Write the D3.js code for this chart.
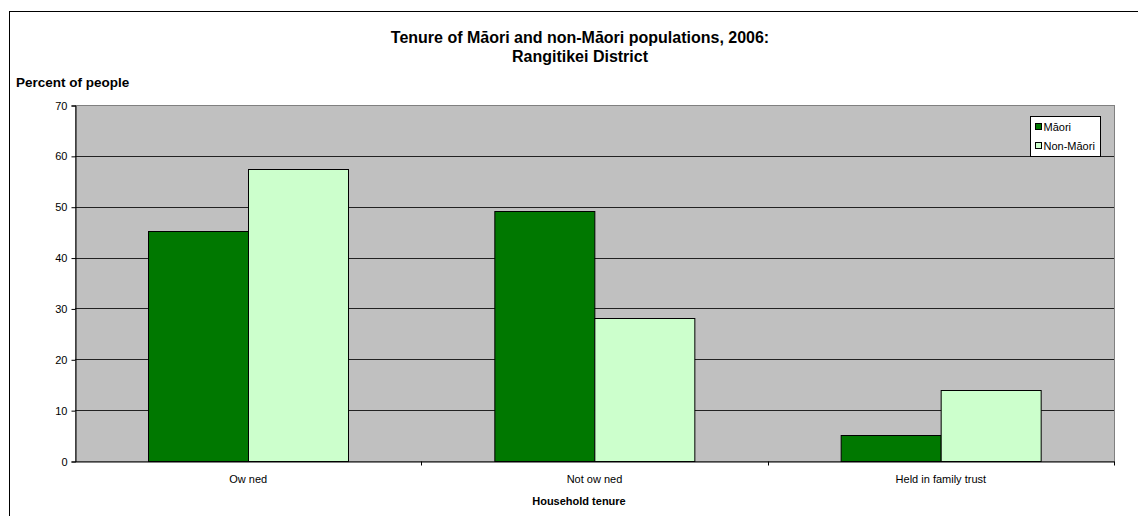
<!DOCTYPE html>
<html>
<head>
<meta charset="utf-8">
<script src="https://cdn.jsdelivr.net/npm/d3@7"></script>
<style>
  html, body { margin: 0; padding: 0; background: #fff; }
  svg { display: block; font-family: "Liberation Sans", Arial, sans-serif; }
</style>
</head>
<body>
<svg id="chart" width="1138" height="516"></svg>
<script>
// Household tenure categories and percentages by ethnic group
const categories = ["Ow ned", "Not ow ned", "Held in family trust"];
const seriesNames = ["Māori", "Non-Māori"];
const maoriValues = [45.3, 49.2, 5.1];
const nonMaoriValues = [57.5, 28.1, 13.9];
const yTicks = [0, 10, 20, 30, 40, 50, 60, 70];
const seriesColors = ["#007800", "#ccffcc"];

const svg = d3.select("#chart");
const plot = { left: 75, right: 1114, top: 105, bottom: 461 };
const font = "Liberation Sans, Arial, sans-serif";

// outer chart frame
svg.append("rect")
  .attr("x", 9.5).attr("y", 11.5)
  .attr("width", 1140).attr("height", 520)
  .attr("fill", "#fff").attr("stroke", "#000").attr("stroke-width", 1);

const x0 = d3.scaleBand().domain(categories).range([plot.left, plot.right]);
const x1 = d3.scaleBand().domain(seriesNames).range([0, x0.bandwidth()])
  .paddingInner(0).paddingOuter(0.73);
const y = d3.scaleLinear().domain([0, 70]).range([plot.bottom, plot.top]);

// plot background
svg.append("rect")
  .attr("x", plot.left + 0.5).attr("y", plot.top + 0.5)
  .attr("width", plot.right - plot.left).attr("height", plot.bottom - plot.top)
  .attr("fill", "#c0c0c0").attr("stroke", "#808080").attr("stroke-width", 1);

// horizontal gridlines
svg.append("g")
  .selectAll("line")
  .data(yTicks.filter(t => t > 0 && t < 70))
  .join("line")
  .attr("x1", plot.left).attr("x2", plot.right)
  .attr("y1", d => Math.round(y(d)) + 0.5).attr("y2", d => Math.round(y(d)) + 0.5)
  .attr("stroke", "#222").attr("stroke-width", 1);

// bars
const rows = categories.map((c, i) => ({ cat: c, vals: [maoriValues[i], nonMaoriValues[i]] }));
const groups = svg.append("g").selectAll("g")
  .data(rows)
  .join("g")
  .attr("transform", d => `translate(${x0(d.cat)},0)`);
groups.selectAll("rect")
  .data(d => d.vals.map((v, j) => ({ name: seriesNames[j], v, j })))
  .join("rect")
  .attr("x", d => Math.round(x1(d.name)) + 0.5)
  .attr("y", d => Math.round(y(d.v)) + 0.5)
  .attr("width", Math.round(x1.bandwidth()))
  .attr("height", d => Math.round(y(0)) - Math.round(y(d.v)))
  .attr("fill", d => seriesColors[d.j])
  .attr("stroke", "#000").attr("stroke-width", 1);

// y axis
const yAxis = d3.axisLeft(y).tickValues(yTicks).tickSize(4).tickPadding(4);
const gy = svg.append("g").attr("transform", `translate(${plot.left + 0.5},0.5)`).call(yAxis);
gy.select(".domain").attr("stroke", "#000");
gy.selectAll(".tick line").attr("stroke", "#000");
gy.selectAll(".tick text").attr("font-size", 11).attr("fill", "#000").attr("font-family", font);

// x axis
const xAxis = d3.axisBottom(x0).tickSize(0).tickPadding(14);
const gx = svg.append("g").attr("transform", `translate(0,${plot.bottom + 0.5})`).call(xAxis);
gx.select(".domain").attr("stroke", "#000");
gx.selectAll(".tick text").attr("font-size", 11).attr("fill", "#000").attr("font-family", font);
// tick marks on category boundaries
gx.selectAll(".sep")
  .data(categories)
  .join("line")
  .attr("class", "sep")
  .attr("x1", d => Math.round(x0(d) + x0.bandwidth()) + 0.5)
  .attr("x2", d => Math.round(x0(d) + x0.bandwidth()) + 0.5)
  .attr("y1", 0).attr("y2", 4)
  .attr("stroke", "#000");

// titles
const title = svg.append("text")
  .attr("text-anchor", "middle")
  .attr("font-size", 16).attr("font-weight", "bold").attr("fill", "#000");
title.append("tspan").attr("x", 580).attr("y", 43).text("Tenure of Māori and non-Māori populations, 2006:");
title.append("tspan").attr("x", 580).attr("y", 62).text("Rangitikei District");

svg.append("text")
  .attr("x", 16).attr("y", 87)
  .attr("font-size", 13.5).attr("font-weight", "bold").attr("fill", "#000")
  .text("Percent of people");

svg.append("text")
  .attr("x", 579).attr("y", 505).attr("text-anchor", "middle")
  .attr("font-size", 11).attr("font-weight", "bold").attr("fill", "#000")
  .text("Household tenure");

// legend
const legend = svg.append("g").attr("transform", "translate(1030.5,116.5)");
legend.append("rect").attr("width", 70).attr("height", 40)
  .attr("fill", "#fff").attr("stroke", "#000");
const items = legend.selectAll("g.item")
  .data(seriesNames)
  .join("g").attr("class", "item")
  .attr("transform", (d, i) => `translate(5,${7 + i * 19})`);
items.append("rect").attr("width", 6).attr("height", 6)
  .attr("fill", (d, i) => seriesColors[i]).attr("stroke", "#000");
items.append("text").attr("x", 8).attr("y", 7)
  .attr("font-size", 11).attr("fill", "#000").text(d => d);
</script>
</body>
</html>
